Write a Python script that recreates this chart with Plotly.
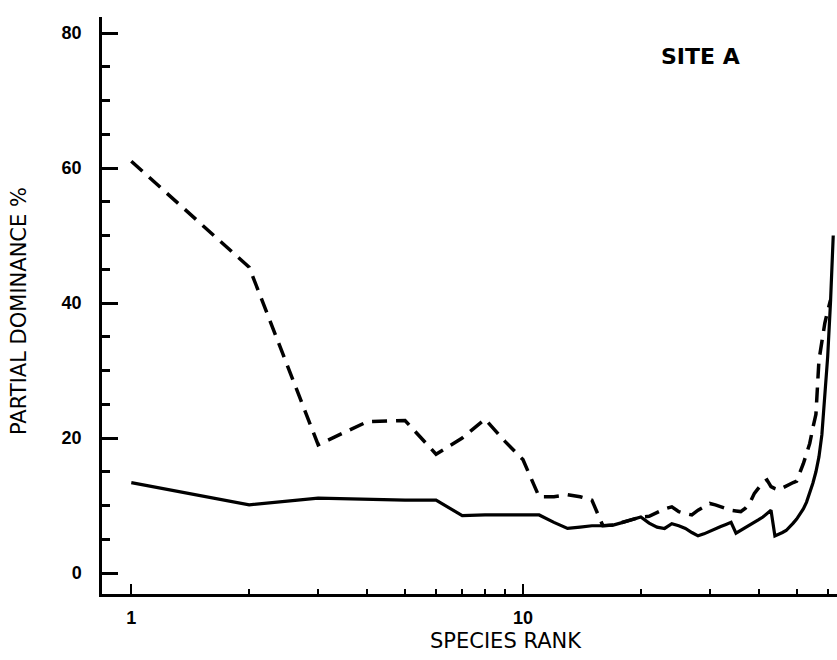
import math
import plotly.graph_objects as go

# Species rank (log axis) and partial dominance (%) for the two samples at Site A
rank_solid = list(range(1, 63))
dom_solid = [
    13.4, 10.1, 11.1, 10.9, 10.8, 10.8, 8.5, 8.6, 8.6, 8.5,
    8.6, 7.5, 6.6, 6.8, 7.0, 7.0, 7.1, 7.5, 7.9, 8.3,
    7.4, 6.8, 6.6, 7.3, 7.0, 6.6, 6.0, 5.5, 5.8, 6.2,
    6.6, 6.9, 7.2, 7.5, 5.9, 6.3, 6.7, 7.1, 7.5, 7.9,
    8.3, 8.8, 9.3, 5.5, 5.7, 6.0, 6.3, 6.8, 7.4, 8.0,
    8.7, 9.5, 10.5, 11.8, 13.3, 15.0, 17.2, 20.5, 25.6, 32.0,
    40.0, 50.0,
]

rank_dashed = list(range(1, 62))
dom_dashed = [
    61.0, 45.3, 19.0, 22.4, 22.6, 17.6, 20.0, 22.8, 19.5, 16.8,
    11.3, 11.3, 11.6, 11.3, 10.8, 7.0, 7.1, 7.5, 7.9, 8.3,
    8.4, 9.0, 9.5, 9.8, 9.1, 8.8, 8.6, 9.3, 9.8, 10.3,
    10.1, 9.8, 9.6, 9.3, 9.2, 9.1, 9.6, 10.4, 11.8, 12.6,
    13.4, 13.8, 12.8, 12.5, 12.3, 12.6, 12.9, 13.2, 13.4, 13.6,
    14.8, 16.2, 17.7, 19.2, 21.5, 23.5, 31.5, 34.5, 37.0, 38.8,
    40.4,
]

y_ticks = [0, 20, 40, 60, 80]
x_ticks = [1, 10]
x_minor = [2, 3, 4, 5, 6, 7, 8, 9, 20, 30, 40, 50, 60]

TICK_FONT = "Liberation Sans"
TEXT_FONT = "DejaVu Sans"

fig = go.Figure()
fig.add_trace(go.Scatter(
    x=rank_dashed, y=dom_dashed, mode="lines",
    line=dict(color="black", width=3.5, dash="15px,9px"),
    showlegend=False,
))
fig.add_trace(go.Scatter(
    x=rank_solid, y=dom_solid, mode="lines",
    line=dict(color="black", width=3.2),
    showlegend=False,
))

fig.update_layout(
    width=837, height=660,
    margin=dict(l=102, r=0, t=17, b=66),
    paper_bgcolor="white", plot_bgcolor="white",
    font=dict(family=TEXT_FONT, color="black"),
    xaxis=dict(
        type="log", range=[-0.0748, 1.802],
        showgrid=False, zeroline=False,
        showline=True, linecolor="black", linewidth=2.5,
        tickvals=x_ticks, ticktext=[str(v) for v in x_ticks],
        ticks="inside", ticklen=10, tickwidth=2, tickcolor="black",
        minor=dict(tickvals=x_minor, ticks="inside", ticklen=5,
                   tickwidth=2, tickcolor="black", showgrid=False),
        tickfont=dict(family=TICK_FONT, size=18, weight="bold"),
        ticklabelstandoff=6,
    ),
    yaxis=dict(
        range=[-3.11, 82.37],
        showgrid=False, zeroline=False,
        showline=True, linecolor="black", linewidth=2.5,
        tickvals=y_ticks, ticktext=[str(v) for v in y_ticks],
        ticks="inside", ticklen=16, tickwidth=2.5, tickcolor="black",
        minor=dict(dtick=5, ticks="inside", ticklen=8,
                   tickwidth=2.5, tickcolor="black", showgrid=False),
        tickfont=dict(family=TICK_FONT, size=18, weight="bold"),
        ticklabelstandoff=14,
    ),
    annotations=[
        dict(text="SITE A", xref="paper", yref="paper", x=0.814, y=0.931,
             xanchor="center", yanchor="middle", showarrow=False,
             font=dict(family=TEXT_FONT, size=22, weight="bold")),
        dict(text="SPECIES RANK", xref="paper", yref="paper", x=0.55, y=-0.082,
             xanchor="center", yanchor="middle", showarrow=False,
             font=dict(family=TEXT_FONT, size=21)),
        dict(text="PARTIAL DOMINANCE %", xref="paper", yref="paper", x=-0.112, y=0.49,
             xanchor="center", yanchor="middle", textangle=-90, showarrow=False,
             font=dict(family=TEXT_FONT, size=21)),
    ],
)

fig.write_html("out.html")
